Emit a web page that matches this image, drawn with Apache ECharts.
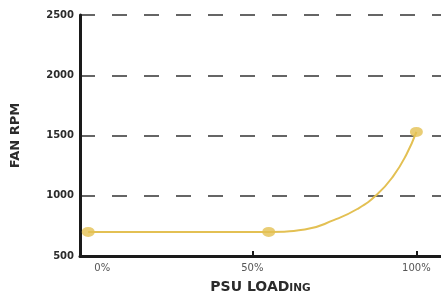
<!DOCTYPE html>
<html>
<head>
<meta charset="utf-8">
<script src="https://cdn.jsdelivr.net/npm/echarts@6/dist/echarts.min.js"></script>
<style>
  html, body { margin: 0; padding: 0; background: #fff; }
  #chart { width: 441px; height: 294px; }
</style>
</head>
<body>
<div id="chart"></div>
<script>
// curve
const loadPct = [0, 55, 66, 75, 82, 88, 93, 97, 100]
const fanRpm = [700, 700, 720, 800, 890, 1010, 1165, 1345, 1530]
// the three dots
const markerLoad = [0, 55, 100]
const markerRpm = [700, 700, 1530]
const xTickLabels = [0, 50, 100]
const yTicks = [500, 1000, 1500, 2000, 2500]

const lineColor = '#E3C053'
const inkColor = '#2b2b2b'

const chart = echarts.init(document.getElementById('chart'), null, { renderer: 'canvas' })

chart.setOption({
  animation: false,
  grid: { left: 80, right: 0, top: 15, bottom: 38, outerBoundsMode: 'none', containLabel: false },
  xAxis: {
    type: 'value',
    min: -2.5,
    max: 107.5,
    name: 'PSU LOAD{s|ING}',
    nameLocation: 'middle',
    nameGap: 24,
    nameTextStyle: {
      color: inkColor,
      fontFamily: 'DejaVu Sans',
      fontWeight: 'bold',
      fontSize: 14,
      rich: {
        s: { fontFamily: 'DejaVu Sans', fontWeight: 'bold', fontSize: 10.5, color: inkColor, padding: [2, 0, 0, 0] }
      }
    },
    axisLine: { lineStyle: { color: '#1a1a1a', width: 3 } },
    axisTick: {
      show: true,
      inside: true,
      length: 5,
      customValues: [50, 100],
      lineStyle: { color: '#1a1a1a', width: 2 }
    },
    axisLabel: {
      customValues: xTickLabels,
      margin: 7,
      color: '#555',
      fontFamily: 'DejaVu Sans',
      fontSize: 10,
      formatter: v => (v === 0 ? '{a|0%}' : v + '%'),
      rich: {
        a: { color: '#555', fontFamily: 'DejaVu Sans', fontSize: 10, padding: [0, 0, 0, 28] }
      }
    },
    splitLine: { show: false }
  },
  yAxis: {
    type: 'value',
    min: yTicks[0],
    max: yTicks[yTicks.length - 1],
    interval: 500,
    name: 'FAN RPM',
    nameLocation: 'middle',
    nameGap: 58,
    nameRotate: 90,
    nameTextStyle: {
      color: inkColor,
      fontFamily: 'DejaVu Sans',
      fontWeight: 'bold',
      fontSize: 13
    },
    axisLine: { show: true, onZero: false, lineStyle: { color: '#1a1a1a', width: 3 } },
    axisTick: { show: false },
    axisLabel: {
      margin: 6,
      color: inkColor,
      fontFamily: 'DejaVu Sans',
      fontWeight: 'bold',
      fontSize: 10,
      formatter: v => String(v)
    },
    splitLine: {
      show: true,
      lineStyle: { color: '#333', width: 1.5, type: [15, 17] }
    }
  },
  series: [
    {
      type: 'line',
      smooth: 0.5,
      symbol: 'none',
      data: loadPct.map((x, i) => [x, fanRpm[i]]),
      lineStyle: { color: lineColor, width: 2 },
      z: 3
    },
    {
      type: 'scatter',
      symbol: 'circle',
      symbolSize: [13, 10],
      data: markerLoad.map((x, i) => [x, markerRpm[i]]),
      itemStyle: { color: lineColor },
      z: 4
    }
  ]
})
</script>
</body>
</html>
